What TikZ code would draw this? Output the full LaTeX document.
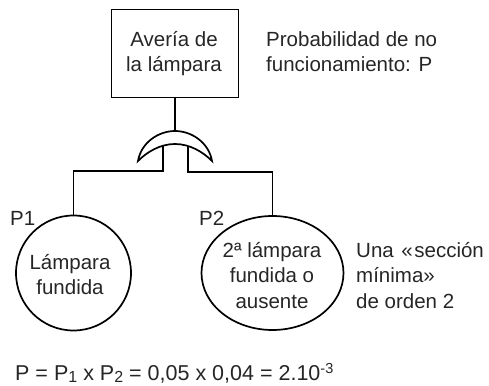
\documentclass[tikz,border=0pt]{standalone}
\usepackage{fontspec}
\setmainfont{Liberation Sans}
\usetikzlibrary{shapes.geometric}
\newcommand{\fl}{\rule{0pt}{15pt}}
\newcommand{\lo}[1]{\raisebox{-2.6pt}{\fontsize{16}{16}\selectfont #1}}
\newcommand{\hi}[1]{\raisebox{7pt}{\fontsize{14.5}{14.5}\selectfont #1}}
\tikzset{ln/.style={draw=black,line width=1.7pt},
txt/.style={font=\fontsize{20.5}{25.6}\selectfont,align=center,inner sep=0pt,text=black!85,anchor=north},
ltxt/.style={font=\fontsize{20.5}{25.6}\selectfont,align=left,inner sep=0pt,anchor=north west,text=black!85}}
\begin{document}
\begin{tikzpicture}[x=1pt,y=-1pt]
\useasboundingbox (0,0) rectangle (489,385);
\node[ln,minimum width=127pt,minimum height=88pt,inner sep=0pt] (box) at (175,53.5) {};
\node[txt] (t0) at (174,31) {\fl Avería de\\la lámpara};
\node[ltxt] (t1) at (266,31) {\fl Probabilidad de no\\funcionamiento: P};
\node[ln,circle,minimum size=115pt,inner sep=0pt] (c1) at (73.5,273) {};
\node[txt] (l1) at (70,254) {\fl Lámpara\\fundida};
\node[ln,ellipse,minimum width=142pt,minimum height=114pt,inner sep=0pt] (c2) at (272.5,273) {};
\node[txt] (l2) at (272,242) {\fl 2ª lámpara\\fundida o\\ausente};
\coordinate (gt) at (175,131);
\coordinate (g1) at (163,146);\coordinate (g2) at (188,146);
\draw[ln] (box.south) -- (gt);
\draw[ln] (g1) |- (73.5,171) -- (c1.north);
\draw[ln] (g2) |- (272.5,172) -- (c2.north);
\draw[ln,fill=white,line join=miter] (138,161) .. controls (141,143) and (158,131) .. (gt) .. controls (192,131) and (209,143) .. (212,161) .. controls (203,152) and (190,144) .. (175,144) .. controls (160,144) and (147,152) .. (138,161) -- cycle;
\node[ltxt] (p1) at (10,210) {\fl P1};
\node[ltxt] (p2) at (199,210) {\fl P2};
\node[ltxt] (t2) at (356,242) {\fl Una\kern2pt{} «\kern1.5pt sección\\mínima»\\de orden 2};
\node[ltxt,font=\fontsize{21.5}{25.6}\selectfont] (f) at (15,363) {\fl P = P\lo{1} x P\lo{2} = 0,05 x 0,04 = 2.10\hi{-3}};
\end{tikzpicture}
\end{document}
